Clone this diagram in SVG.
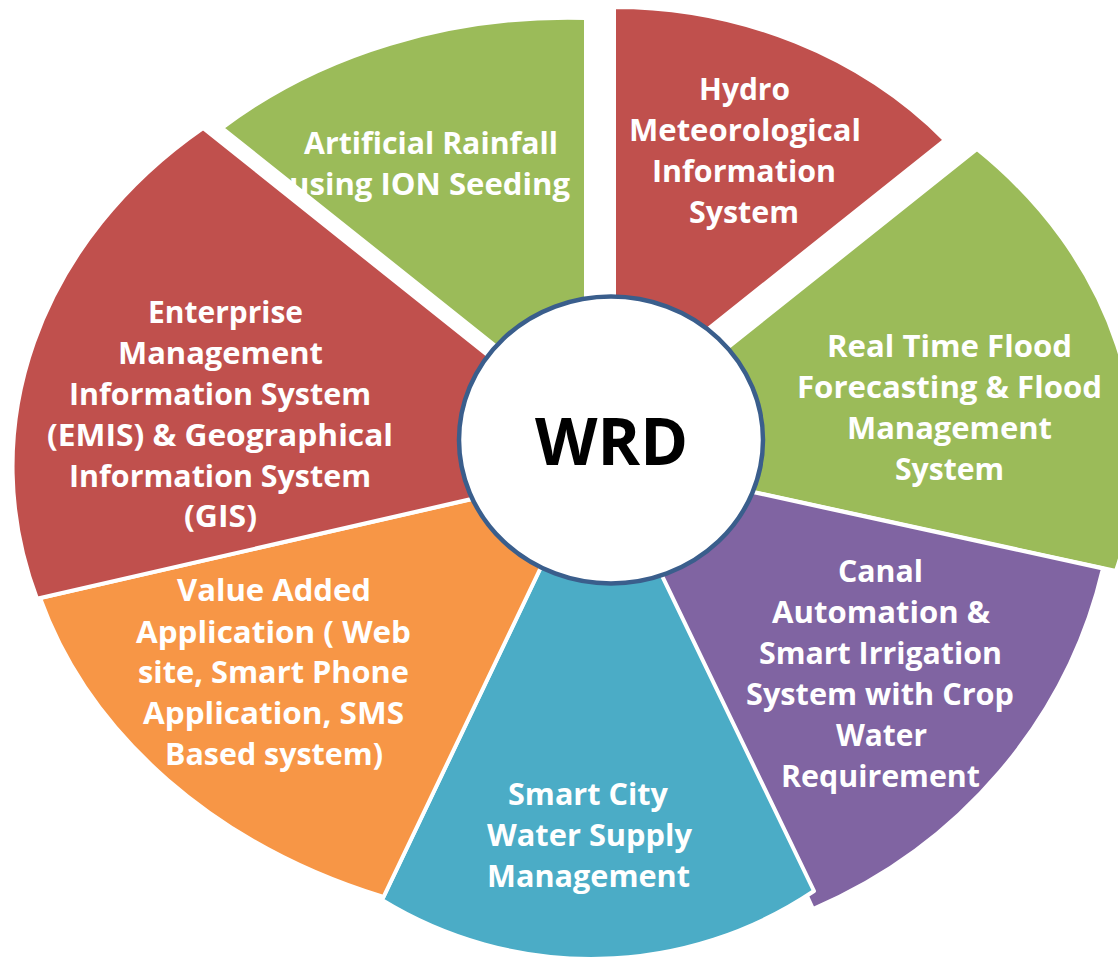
<svg xmlns="http://www.w3.org/2000/svg" width="1118" height="960" viewBox="0 0 1118 960">
<style>
.seg{stroke:#ffffff;stroke-width:4;stroke-linejoin:round}
.lbl{font-family:"Open Sans","Liberation Sans",sans-serif;font-weight:700;font-size:31px;fill:#ffffff;text-anchor:middle}
.ctr{font-family:"Open Sans","Liberation Sans",sans-serif;font-weight:700;font-size:67px;fill:#000000;text-anchor:middle}
</style>
<rect x="0" y="0" width="1118" height="960" fill="#ffffff"/>
<g id="artificial-rainfall">
<path class="seg" fill="#9BBB59" d="M586,418 L222,128 A502,400 0 0 1 586,18 Z"/>
<text class="lbl" x="431" y="154" textLength="254" lengthAdjust="spacingAndGlyphs">Artificial Rainfall</text>
<text class="lbl" x="429.5" y="195" textLength="281" lengthAdjust="spacingAndGlyphs">using ION Seeding</text>
</g>
<g id="hydro-met">
<path class="seg" fill="#C0504D" d="M614,404 L614,7 A443,397 0 0 1 945,140 Z"/>
<text class="lbl" x="744.5" y="100" textLength="91" lengthAdjust="spacingAndGlyphs">Hydro</text>
<text class="lbl" x="745" y="141" textLength="232" lengthAdjust="spacingAndGlyphs">Meteorological</text>
<text class="lbl" x="744" y="182" textLength="184" lengthAdjust="spacingAndGlyphs">Information</text>
<text class="lbl" x="744" y="223" textLength="110" lengthAdjust="spacingAndGlyphs">System</text>
</g>
<g id="flood-forecasting">
<path class="seg" fill="#9BBB59" d="M591,456.5 L977,149 A544,436 0 0 1 1116,571 Z"/>
<text class="lbl" x="949.5" y="357" textLength="245" lengthAdjust="spacingAndGlyphs">Real Time Flood</text>
<text class="lbl" x="949.5" y="398" textLength="305" lengthAdjust="spacingAndGlyphs">Forecasting &amp; Flood</text>
<text class="lbl" x="949.5" y="439" textLength="205" lengthAdjust="spacingAndGlyphs">Management</text>
<text class="lbl" x="949.5" y="480" textLength="109" lengthAdjust="spacingAndGlyphs">System</text>
</g>
<g id="canal-automation">
<path class="seg" fill="#8064A2" d="M606,460 L1103,568.5 A510,491 0 0 1 813,909 Z"/>
<text class="lbl" x="880.5" y="582" textLength="85" lengthAdjust="spacingAndGlyphs">Canal</text>
<text class="lbl" x="881" y="623" textLength="218" lengthAdjust="spacingAndGlyphs">Automation &amp;</text>
<text class="lbl" x="880.5" y="664" textLength="243" lengthAdjust="spacingAndGlyphs">Smart Irrigation</text>
<text class="lbl" x="880" y="705" textLength="268" lengthAdjust="spacingAndGlyphs">System with Crop</text>
<text class="lbl" x="881.5" y="746" textLength="91" lengthAdjust="spacingAndGlyphs">Water</text>
<text class="lbl" x="880.5" y="787" textLength="199" lengthAdjust="spacingAndGlyphs">Requirement</text>
</g>
<g id="smart-city">
<path class="seg" fill="#4BACC6" d="M599,445 L814,891 A400,400 0 0 1 382,900 Z"/>
<text class="lbl" x="588" y="805" textLength="160" lengthAdjust="spacingAndGlyphs">Smart City</text>
<text class="lbl" x="589.5" y="846" textLength="205" lengthAdjust="spacingAndGlyphs">Water Supply</text>
<text class="lbl" x="588.5" y="887" textLength="203" lengthAdjust="spacingAndGlyphs">Management</text>
</g>
<g id="value-added">
<path class="seg" fill="#F79646" d="M586,473 L383.5,897 A568,454 0 0 1 40,598 Z"/>
<text class="lbl" x="274" y="601" textLength="194" lengthAdjust="spacingAndGlyphs">Value Added</text>
<text class="lbl" x="273.5" y="643" textLength="275" lengthAdjust="spacingAndGlyphs">Application ( Web</text>
<text class="lbl" x="273.5" y="683" textLength="271" lengthAdjust="spacingAndGlyphs">site, Smart Phone</text>
<text class="lbl" x="273.5" y="724" textLength="261" lengthAdjust="spacingAndGlyphs">Application, SMS</text>
<text class="lbl" x="274" y="765" textLength="218" lengthAdjust="spacingAndGlyphs">Based system)</text>
</g>
<g id="emis-gis">
<path class="seg" fill="#C0504D" d="M624,464 L37,598.7 A528,440 0 0 1 203,128 Z"/>
<text class="lbl" x="225.5" y="323" textLength="155" lengthAdjust="spacingAndGlyphs">Enterprise</text>
<text class="lbl" x="220.5" y="364" textLength="205" lengthAdjust="spacingAndGlyphs">Management</text>
<text class="lbl" x="220" y="405" textLength="302" lengthAdjust="spacingAndGlyphs">Information System</text>
<text class="lbl" x="220" y="446" textLength="346" lengthAdjust="spacingAndGlyphs">(EMIS) &amp; Geographical</text>
<text class="lbl" x="220" y="487" textLength="302" lengthAdjust="spacingAndGlyphs">Information System</text>
<text class="lbl" x="220.5" y="527" textLength="73" lengthAdjust="spacingAndGlyphs">(GIS)</text>
</g>
<g id="wrd">
<ellipse cx="611" cy="440" rx="152" ry="143.5" fill="#ffffff" stroke="#3A5E8C" stroke-width="4.5"/>
<text class="ctr" x="611.5" y="465" textLength="153" lengthAdjust="spacingAndGlyphs">WRD</text>
</g>
</svg>
